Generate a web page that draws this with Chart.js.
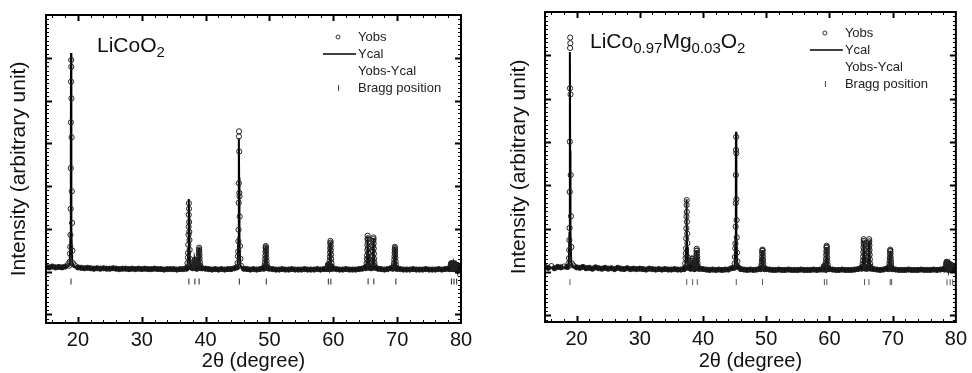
<!DOCTYPE html>
<html>
<head>
<meta charset="utf-8">
<script src="https://cdn.jsdelivr.net/npm/chart.js@4.4.1/dist/chart.umd.min.js"></script>
<style>
html, body { margin: 0; padding: 0; background: #fff; }
#wrap { position: relative; width: 972px; height: 373px; }
.panel { position: absolute; top: 0; width: 486px; height: 373px; }
</style>
</head>
<body>
<div id="wrap">
  <div class="panel" style="left:0"><canvas id="chartL" width="486" height="373"></canvas></div>
  <div class="panel" style="left:486px"><canvas id="chartR" width="486" height="373"></canvas></div>
</div>
<script>
// --- data (intensity in arbitrary units, 0 = background level)
const legendLabels = ['Yobs', 'Ycal', 'Yobs-Ycal', 'Bragg position'];
const xTickValues = [20, 30, 40, 50, 60, 70, 80];
const formulaL = [['LiCoO', 0], ['2', 1]];
const formulaR = [['LiCo', 0], ['0.97', 1], ['Mg', 0], ['0.03', 1], ['O', 0], ['2', 1]];

// offsets (deg) of the sampled points around each peak centre
const obsOffsets = [-0.3, -0.22, -0.16, -0.12, -0.09, -0.06, -0.04, -0.02, 0, 0.02, 0.04, 0.06, 0.09, 0.12, 0.16, 0.22, 0.3];
const calOffsets = [-0.45, -0.2, -0.08, -0.03, 0, 0.03, 0.08, 0.2, 0.45];
const scanStart = 15, scanStep = 0.5;
const calBaseX = [15, 16.5, 18, 20.5, 24, 28, 32, 35, 36.6, 40, 42, 44.4, 46.2, 48, 51, 55, 58.4, 62, 64.6, 67.2, 68.8, 72, 76, 77.8, 80];

// LiCoO2
const peakPosL = [18.92, 37.38, 38.32, 38.98, 45.22, 49.42, 59.22, 59.55, 65.38, 66.28, 69.64, 78.5, 78.9, 79.35];
const obsPeaksL = [
  [0.14, 0.23, 0.42, 0.58, 0.86, 1.47, 2.42, 3.49, 4.44, 4.95, 4.79, 4.05, 3.14, 1.88, 1.14, 0.49, 0.2],
  [0.1, 0.2, 0.33, 0.44, 0.63, 0.86, 1.05, 1.33, 1.6, 1.47, 1.16, 0.93, 0.74, 0.51, 0.3, 0.17, 0.1],
  [0.08, 0.1, 0.13, 0.16, 0.2, 0.24, 0.27, 0.28, 0.26, 0.22, 0.18, 0.14, 0.12, 0.1, 0.09, 0.08, 0.07],
  [0.08, 0.1, 0.14, 0.2, 0.28, 0.35, 0.42, 0.5, 0.56, 0.52, 0.45, 0.38, 0.3, 0.22, 0.15, 0.1, 0.08],
  [0.1, 0.2, 0.36, 0.47, 0.71, 0.98, 1.61, 2.07, 3.16, 3.28, 2.81, 1.84, 1.76, 1.29, 0.6, 0.3, 0.14],
  [0.07, 0.1, 0.15, 0.22, 0.3, 0.38, 0.47, 0.55, 0.6, 0.57, 0.5, 0.42, 0.33, 0.25, 0.17, 0.11, 0.08],
  [0.06, 0.07, 0.08, 0.1, 0.12, 0.14, 0.16, 0.17, 0.16, 0.15, 0.13, 0.11, 0.1, 0.09, 0.08, 0.07, 0.06],
  [0.08, 0.12, 0.18, 0.26, 0.35, 0.45, 0.55, 0.66, 0.72, 0.68, 0.6, 0.5, 0.4, 0.3, 0.2, 0.12, 0.08],
  [0.08, 0.12, 0.2, 0.3, 0.38, 0.5, 0.62, 0.75, 0.84, 0.78, 0.68, 0.55, 0.44, 0.32, 0.22, 0.14, 0.09],
  [0.08, 0.12, 0.2, 0.28, 0.36, 0.48, 0.6, 0.72, 0.8, 0.76, 0.66, 0.54, 0.42, 0.3, 0.2, 0.13, 0.09],
  [0.07, 0.1, 0.15, 0.2, 0.28, 0.36, 0.44, 0.52, 0.58, 0.55, 0.48, 0.4, 0.32, 0.24, 0.16, 0.1, 0.07],
  [0.06, 0.08, 0.1, 0.12, 0.14, 0.16, 0.18, 0.2, 0.19, 0.18, 0.16, 0.14, 0.12, 0.1, 0.08, 0.07, 0.06],
  [0.06, 0.07, 0.09, 0.11, 0.13, 0.15, 0.17, 0.19, 0.2, 0.19, 0.17, 0.15, 0.12, 0.1, 0.08, 0.07, 0.06],
  [0.06, 0.07, 0.08, 0.09, 0.11, 0.12, 0.14, 0.15, 0.16, 0.15, 0.14, 0.12, 0.1, 0.09, 0.07, 0.06, 0.06]
];
const calPeaksL = [
  [0.12, 0.2, 0.9, 2.8, 5.11, 2.8, 0.9, 0.22, 0.12],
  [0.08, 0.15, 0.55, 1.3, 1.7, 1.3, 0.55, 0.15, 0.08],
  [0.07, 0.1, 0.18, 0.24, 0.27, 0.24, 0.18, 0.1, 0.07],
  [0.07, 0.12, 0.3, 0.48, 0.55, 0.48, 0.3, 0.12, 0.07],
  [0.08, 0.16, 0.8, 2.2, 3.12, 2.2, 0.8, 0.16, 0.08],
  [0.06, 0.1, 0.3, 0.5, 0.6, 0.5, 0.3, 0.1, 0.06],
  [0.06, 0.08, 0.12, 0.16, 0.18, 0.16, 0.12, 0.08, 0.06],
  [0.06, 0.1, 0.35, 0.6, 0.7, 0.6, 0.35, 0.1, 0.06],
  [0.06, 0.1, 0.4, 0.7, 0.82, 0.7, 0.4, 0.1, 0.06],
  [0.06, 0.1, 0.4, 0.68, 0.78, 0.68, 0.4, 0.1, 0.06],
  [0.06, 0.1, 0.3, 0.5, 0.58, 0.5, 0.3, 0.1, 0.06],
  [0.06, 0.08, 0.14, 0.18, 0.2, 0.18, 0.14, 0.08, 0.06],
  [0.06, 0.08, 0.12, 0.16, 0.18, 0.16, 0.12, 0.08, 0.06],
  [0.06, 0.08, 0.1, 0.13, 0.15, 0.13, 0.1, 0.08, 0.06]
];
const baseObsL = [
  0.11, 0.1, 0.12, 0.1, 0.11, 0.1, 0.12, 0.18, 0.2, 0.15,
  0.1, 0.09, 0.08, 0.09, 0.08, 0.07, 0.08, 0.07, 0.08, 0.07,
  0.07, 0.08, 0.07, 0.06, 0.07, 0.07, 0.06, 0.07, 0.06, 0.07,
  0.06, 0.07, 0.06, 0.06, 0.07, 0.06, 0.06, 0.05, 0.06, 0.06,
  0.06, 0.05, 0.06, 0.06, 0.07, 0.1, 0.12, 0.1, 0.14, 0.08,
  0.07, 0.06, 0.05, 0.06, 0.05, 0.06, 0.05, 0.06, 0.06, 0.08,
  0.1, 0.12, 0.07, 0.06, 0.05, 0.06, 0.05, 0.06, 0.08, 0.1,
  0.07, 0.06, 0.05, 0.05, 0.06, 0.05, 0.05, 0.06, 0.05, 0.05,
  0.05, 0.06, 0.05, 0.05, 0.05, 0.06, 0.05, 0.06, 0.08, 0.12,
  0.07, 0.06, 0.05, 0.05, 0.06, 0.05, 0.05, 0.05, 0.06, 0.07,
  0.1, 0.12, 0.1, 0.09, 0.07, 0.06, 0.05, 0.06, 0.08, 0.1,
  0.07, 0.06, 0.05, 0.05, 0.05, 0.06, 0.05, 0.05, 0.05, 0.06,
  0.05, 0.05, 0.05, 0.06, 0.05, 0.06, 0.07, 0.1, 0.12, 0.14,
  0.1
];
const calBaseYL = [0.1, 0.1, 0.1, 0.09, 0.08, 0.07, 0.07, 0.07, 0.07, 0.07, 0.06, 0.06, 0.07, 0.06, 0.06, 0.06, 0.06, 0.06, 0.06, 0.06, 0.06, 0.06, 0.06, 0.06, 0.08];
const braggL = [18.92, 37.38, 38.32, 38.98, 45.28, 49.5, 59.22, 59.62, 65.45, 66.35, 69.8, 78.5, 78.9, 79.32];

// LiCo0.97Mg0.03O2
const peakPosR = [18.95, 37.4, 38.35, 39.0, 45.22, 49.4, 59.22, 59.55, 65.42, 66.28, 69.62, 78.55, 78.95, 79.4];
const obsPeaksR = [
  [0.13, 0.2, 0.32, 0.51, 0.74, 1.02, 1.85, 3.01, 4.24, 5.17, 5.41, 5.28, 4.1, 2.24, 1.29, 0.58, 0.2],
  [0.1, 0.2, 0.32, 0.43, 0.55, 0.78, 1.01, 1.28, 1.55, 1.66, 1.39, 1.16, 0.89, 0.67, 0.35, 0.18, 0.1],
  [0.08, 0.1, 0.14, 0.18, 0.22, 0.26, 0.3, 0.32, 0.3, 0.26, 0.21, 0.17, 0.13, 0.11, 0.09, 0.08, 0.07],
  [0.08, 0.1, 0.14, 0.2, 0.27, 0.34, 0.42, 0.49, 0.54, 0.5, 0.44, 0.36, 0.29, 0.21, 0.14, 0.1, 0.08],
  [0.1, 0.2, 0.35, 0.55, 0.66, 1.05, 1.59, 2.24, 2.82, 3.12, 2.74, 1.68, 1.2, 0.8, 0.45, 0.25, 0.12],
  [0.07, 0.1, 0.15, 0.21, 0.28, 0.36, 0.44, 0.49, 0.52, 0.5, 0.43, 0.36, 0.28, 0.2, 0.14, 0.1, 0.07],
  [0.06, 0.07, 0.08, 0.09, 0.11, 0.13, 0.14, 0.15, 0.14, 0.13, 0.12, 0.1, 0.09, 0.08, 0.07, 0.06, 0.06],
  [0.07, 0.1, 0.16, 0.23, 0.31, 0.4, 0.48, 0.56, 0.61, 0.58, 0.51, 0.43, 0.34, 0.25, 0.17, 0.11, 0.08],
  [0.08, 0.12, 0.19, 0.27, 0.36, 0.46, 0.57, 0.68, 0.76, 0.72, 0.63, 0.52, 0.41, 0.3, 0.2, 0.13, 0.08],
  [0.08, 0.12, 0.19, 0.27, 0.36, 0.46, 0.57, 0.68, 0.76, 0.71, 0.62, 0.51, 0.4, 0.29, 0.19, 0.12, 0.08],
  [0.07, 0.1, 0.14, 0.2, 0.26, 0.33, 0.41, 0.48, 0.52, 0.49, 0.43, 0.35, 0.28, 0.21, 0.14, 0.1, 0.07],
  [0.06, 0.08, 0.1, 0.13, 0.15, 0.18, 0.2, 0.23, 0.24, 0.22, 0.2, 0.17, 0.14, 0.11, 0.09, 0.07, 0.06],
  [0.06, 0.07, 0.09, 0.11, 0.13, 0.15, 0.17, 0.19, 0.2, 0.19, 0.17, 0.15, 0.12, 0.1, 0.08, 0.07, 0.06],
  [0.06, 0.07, 0.08, 0.09, 0.11, 0.12, 0.14, 0.15, 0.16, 0.15, 0.14, 0.12, 0.1, 0.09, 0.07, 0.06, 0.06]
];
const calPeaksR = [
  [0.12, 0.2, 0.9, 2.8, 5.08, 2.8, 0.9, 0.22, 0.12],
  [0.08, 0.15, 0.55, 1.3, 1.68, 1.3, 0.55, 0.15, 0.08],
  [0.07, 0.1, 0.2, 0.27, 0.3, 0.27, 0.2, 0.1, 0.07],
  [0.07, 0.12, 0.28, 0.44, 0.5, 0.44, 0.28, 0.12, 0.07],
  [0.08, 0.16, 0.8, 2.3, 3.24, 2.3, 0.8, 0.16, 0.08],
  [0.06, 0.1, 0.28, 0.43, 0.5, 0.43, 0.28, 0.1, 0.06],
  [0.06, 0.08, 0.11, 0.14, 0.15, 0.14, 0.11, 0.08, 0.06],
  [0.06, 0.1, 0.3, 0.5, 0.58, 0.5, 0.3, 0.1, 0.06],
  [0.06, 0.1, 0.36, 0.62, 0.72, 0.62, 0.36, 0.1, 0.06],
  [0.06, 0.1, 0.36, 0.62, 0.72, 0.62, 0.36, 0.1, 0.06],
  [0.06, 0.1, 0.26, 0.41, 0.48, 0.41, 0.26, 0.1, 0.06],
  [0.06, 0.08, 0.15, 0.2, 0.22, 0.2, 0.15, 0.08, 0.06],
  [0.06, 0.08, 0.12, 0.16, 0.18, 0.16, 0.12, 0.08, 0.06],
  [0.06, 0.08, 0.1, 0.12, 0.14, 0.12, 0.1, 0.08, 0.06]
];
const baseObsR = [
  0.12, 0.1, 0.14, 0.09, 0.12, 0.11, 0.13, 0.12, 0.18, 0.15,
  0.11, 0.1, 0.12, 0.09, 0.1, 0.08, 0.11, 0.09, 0.08, 0.1,
  0.08, 0.09, 0.07, 0.1, 0.08, 0.07, 0.09, 0.07, 0.08, 0.07,
  0.08, 0.07, 0.06, 0.08, 0.07, 0.06, 0.07, 0.06, 0.07, 0.06,
  0.06, 0.07, 0.06, 0.06, 0.07, 0.1, 0.12, 0.1, 0.13, 0.08,
  0.07, 0.06, 0.05, 0.06, 0.05, 0.06, 0.05, 0.06, 0.06, 0.09,
  0.1, 0.12, 0.07, 0.06, 0.05, 0.06, 0.05, 0.06, 0.08, 0.1,
  0.07, 0.06, 0.05, 0.05, 0.06, 0.05, 0.05, 0.06, 0.05, 0.05,
  0.05, 0.06, 0.05, 0.05, 0.05, 0.06, 0.05, 0.06, 0.08, 0.12,
  0.07, 0.06, 0.05, 0.05, 0.06, 0.05, 0.05, 0.05, 0.06, 0.07,
  0.1, 0.12, 0.1, 0.09, 0.07, 0.06, 0.05, 0.06, 0.08, 0.1,
  0.07, 0.06, 0.05, 0.05, 0.05, 0.06, 0.05, 0.05, 0.05, 0.06,
  0.05, 0.05, 0.05, 0.06, 0.05, 0.06, 0.07, 0.1, 0.12, 0.14,
  0.1
];
const calBaseYR = [0.11, 0.1, 0.1, 0.09, 0.08, 0.08, 0.07, 0.07, 0.07, 0.07, 0.06, 0.06, 0.07, 0.06, 0.06, 0.06, 0.06, 0.06, 0.06, 0.06, 0.06, 0.06, 0.06, 0.06, 0.08];
const braggR = [18.95, 37.42, 38.35, 39.1, 45.26, 49.4, 59.2, 59.58, 65.55, 66.25, 69.62, 69.84, 78.6, 79.1, 79.5];
const braggLevel = -0.23;

// --- helpers
function buildObs(pos, peaks, base) {
  const pts = [];
  pos.forEach((p, i) => peaks[i].forEach((v, j) => pts.push({ x: p + obsOffsets[j], y: v })));
  base.forEach((v, i) => {
    const xv = scanStart + scanStep * i;
    if (pos.some(p => Math.abs(p - xv) < 0.35)) return;
    pts.push({ x: xv, y: v });
  });
  return pts;
}
function buildCal(pos, peaks, baseY) {
  const pts = [];
  pos.forEach((p, i) => peaks[i].forEach((v, j) => pts.push({ x: p + calOffsets[j], y: v })));
  calBaseX.forEach((xv, i) => pts.push({ x: xv, y: baseY[i] }));
  return pts.sort((a, b) => a.x - b.x);
}

const panelDeco = {
  id: 'panelDeco',
  afterDatasetsDraw(chart, args, o) {
    const { ctx, chartArea: a, scales: { x, y } } = chart;
    ctx.save();
    ctx.strokeStyle = '#000';
    // inward ticks on all four sides
    for (let v = 16; v < 80; v += 2) {
      const major = v % 10 === 0;
      const px = Math.round(x.getPixelForValue(v)) + 0.5;
      const len = major ? 6 : 3;
      ctx.lineWidth = major ? 2 : 1;
      ctx.beginPath();
      ctx.moveTo(px, a.bottom); ctx.lineTo(px, a.bottom - len);
      ctx.moveTo(px, a.top); ctx.lineTo(px, a.top + len);
      ctx.stroke();
    }
    for (let i = Math.ceil(y.min * 10); i < y.max * 10; i++) {
      const major = i % 10 === 0;
      const py = Math.round(y.getPixelForValue(i / 10)) + 0.5;
      const len = major ? 6 : 3;
      ctx.lineWidth = major ? 2 : 1;
      ctx.beginPath();
      ctx.moveTo(a.left, py); ctx.lineTo(a.left + len, py);
      ctx.moveTo(a.right, py); ctx.lineTo(a.right - len, py);
      ctx.stroke();
    }
    ctx.lineWidth = 2;
    ctx.strokeRect(a.left, a.top, a.right - a.left, a.bottom - a.top);

    // compound label
    let cx = o.fx;
    ctx.fillStyle = '#111';
    ctx.textBaseline = 'alphabetic';
    o.formula.forEach(([t, sub]) => {
      ctx.font = (sub ? '15px' : '21px') + ' "Liberation Sans", Arial, sans-serif';
      ctx.fillText(t, cx, o.fy + (sub ? 5 : 0));
      cx += ctx.measureText(t).width;
    });

    // legend
    const lx = a.right - o.lgRight;
    ctx.font = '13px "Liberation Sans", Arial, sans-serif';
    ctx.textBaseline = 'middle';
    ctx.fillStyle = '#222';
    legendLabels.forEach((t, i) => ctx.fillText(t, lx, o.lgTop + i * 17));
    ctx.strokeStyle = '#333';
    ctx.lineWidth = 1;
    ctx.beginPath();
    ctx.arc(lx - 20, o.lgTop, 2, 0, Math.PI * 2);
    ctx.stroke();
    ctx.lineWidth = 1.5;
    ctx.strokeStyle = '#000';
    ctx.beginPath();
    ctx.moveTo(lx - o.lineLen, o.lgTop + 17); ctx.lineTo(lx - 2, o.lgTop + 17);
    ctx.stroke();
    ctx.lineWidth = 1;
    ctx.strokeStyle = '#444';
    ctx.beginPath();
    ctx.moveTo(lx - 19.5, o.lgTop + 51 - 3); ctx.lineTo(lx - 19.5, o.lgTop + 51 + 3);
    ctx.stroke();
    ctx.restore();
  }
};

function makePanel(id, obs, cal, bragg, geo) {
  const font = { family: '"Liberation Sans", Arial, sans-serif' };
  return new Chart(document.getElementById(id), {
    type: 'scatter',
    data: {
      datasets: [
        { label: 'Yobs', data: obs, showLine: false, pointRadius: 2.6, pointBorderWidth: 1,
          pointBorderColor: '#222',
          // the dense background scan merges into a solid band
          pointBackgroundColor: c => (c.raw && c.raw.y < 0.13 ? '#111' : 'rgba(255,255,255,0)') },
        { label: 'Ycal', data: cal, showLine: true, borderColor: '#000', borderWidth: 2,
          pointRadius: 0, tension: 0 },
        { label: 'Bragg position', data: bragg.map(v => ({ x: v, y: braggLevel })), showLine: false,
          pointStyle: 'line', rotation: 90, pointRadius: 3, pointBorderWidth: 1,
          pointBorderColor: geo.braggColor }
      ]
    },
    options: {
      responsive: false,
      animation: false,
      devicePixelRatio: 1,
      layout: { padding: { left: 0, top: geo.top, right: geo.right, bottom: 0 } },
      plugins: {
        legend: { display: false },
        tooltip: { enabled: false },
        panelDeco: geo.deco
      },
      scales: {
        x: {
          type: 'linear', min: 15, max: 80,
          grid: { display: false, drawTicks: false },
          border: { display: false },
          afterBuildTicks: s => { s.ticks = xTickValues.map(v => ({ value: v })); },
          afterFit: s => { s.height = geo.xHeight; },
          ticks: { padding: 5, color: '#111', font: { ...font, size: 20 } },
          title: { display: true, text: '2θ (degree)', color: '#111', padding: { top: 0, bottom: 0 },
            font: { ...font, size: 20 } }
        },
        y: {
          type: 'linear', min: geo.yMin, max: 6,
          grid: { display: false, drawTicks: false },
          border: { display: false },
          ticks: { display: false },
          afterFit: s => { s.width = geo.yWidth; },
          title: { display: true, text: 'Intensity (arbitrary unit)', color: '#111',
            padding: { top: geo.titlePad, bottom: 0 }, font: { ...font, size: 21 } }
        }
      }
    },
    plugins: [panelDeco]
  });
}

makePanel('chartL', buildObs(peakPosL, obsPeaksL, baseObsL), buildCal(peakPosL, calPeaksL, calBaseYL), braggL, {
  top: 15, right: 25, xHeight: 50, yWidth: 46, yMin: -1.2, titlePad: 7, braggColor: '#222',
  deco: { formula: formulaL, fx: 97, fy: 52, lgRight: 103, lgTop: 37, lineLen: 35 }
});
makePanel('chartR', buildObs(peakPosR, obsPeaksR, baseObsR), buildCal(peakPosR, calPeaksR, calBaseYR), braggR, {
  top: 12, right: 11, xHeight: 51, yWidth: 59, yMin: -1.15, titlePad: 21, braggColor: '#555',
  deco: { formula: formulaR, fx: 104, fy: 48, lgRight: 111, lgTop: 33, lineLen: 35 }
});
</script>
</body>
</html>
